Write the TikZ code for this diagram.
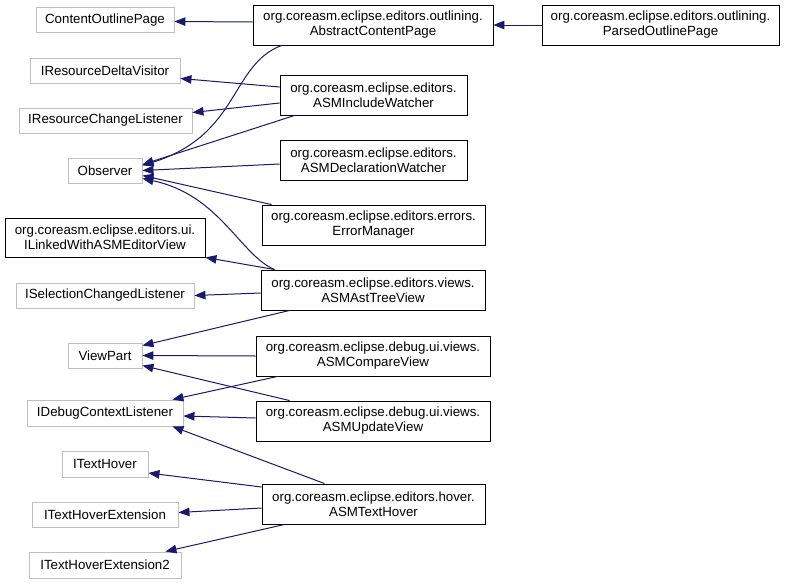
\documentclass[tikz,border=0pt]{standalone}
\usepackage{fontspec}
\setmainfont{Liberation Sans}
\usetikzlibrary{arrows.meta}
\definecolor{navy}{RGB}{25,25,112}
\definecolor{boxgray}{RGB}{191,191,191}
\tikzset{
  basebox/.style={rectangle, inner sep=0pt, align=center, font=\fontsize{13.3}{15}\selectfont, line width=0.9pt},
  ifc/.style={basebox, draw=boxgray},
  cls/.style={basebox, draw=black},
  inh/.style={draw=navy, line width=1pt, -{Triangle[length=11pt,width=8.5pt]}}
}
\begin{document}
\begin{tikzpicture}[x=1pt,y=-1pt]
\fill[white] (0,0) rectangle (787,584);
\useasboundingbox (0,0) rectangle (787,584);
% left column
\node[ifc, minimum width=138pt, minimum height=25pt] (cop) at (105,20) {ContentOutlinePage};
\node[ifc, minimum width=150pt, minimum height=25pt] (rdv) at (105,70.5) {IResourceDeltaVisitor};
\node[ifc, minimum width=173pt, minimum height=25pt] (rcl) at (105.5,120.5) {IResourceChangeListener};
\node[ifc, minimum width=74pt, minimum height=25pt] (obs) at (105,170.5) {Observer};
\node[cls, minimum width=200pt, minimum height=39pt] (ilk) at (105,237.5) {org.coreasm.eclipse.editors.ui.\\ILinkedWithASMEditorView};
\node[ifc, minimum width=178pt, minimum height=25pt] (isel) at (105,295.5) {ISelectionChangedListener};
\node[ifc, minimum width=74pt, minimum height=25pt] (vp) at (105,355.5) {ViewPart};
\node[ifc, minimum width=156pt, minimum height=26pt] (idcl) at (105,413) {IDebugContextListener};
\node[ifc, minimum width=86pt, minimum height=26pt] (ith) at (105,464) {ITextHover};
\node[ifc, minimum width=146pt, minimum height=25pt] (ithe) at (105,514.5) {ITextHoverExtension};
\node[ifc, minimum width=152pt, minimum height=26pt] (ithe2) at (105,565) {ITextHoverExtension2};
% middle column
\node[cls, minimum width=240pt, minimum height=40pt] (acp) at (373,25) {org.coreasm.eclipse.editors.outlining.\\AbstractContentPage};
\node[cls, minimum width=187pt, minimum height=40pt] (iw) at (373.5,95) {org.coreasm.eclipse.editors.\\ASMIncludeWatcher};
\node[cls, minimum width=187pt, minimum height=40pt] (decl) at (373.5,160) {org.coreasm.eclipse.editors.\\ASMDeclarationWatcher};
\node[cls, minimum width=223pt, minimum height=40pt] (em) at (373.5,225) {org.coreasm.eclipse.editors.errors.\\ErrorManager};
\node[cls, minimum width=224pt, minimum height=40pt] (ast) at (373,290) {org.coreasm.eclipse.editors.views.\\ASMAstTreeView};
\node[cls, minimum width=234pt, minimum height=40pt] (cmp) at (373,356) {org.coreasm.eclipse.debug.ui.views.\\ASMCompareView};
\node[cls, minimum width=234pt, minimum height=40pt] (upd) at (373,421) {org.coreasm.eclipse.debug.ui.views.\\ASMUpdateView};
\node[cls, minimum width=223pt, minimum height=40pt] (th) at (373.5,504) {org.coreasm.eclipse.editors.hover.\\ASMTextHover};
% right
\node[cls, minimum width=237pt, minimum height=40pt] (pop) at (660.5,25) {org.coreasm.eclipse.editors.outlining.\\ParsedOutlinePage};
% edges
\draw[inh] (pop.west) -- (acp.east);
\draw[inh] ([yshift=3pt]acp.west) -- ([yshift=-1.5pt]cop.east);
\draw[inh] ([xshift=29pt]acp.south west) .. controls (230,65) and (240,135) .. ([yshift=5pt]obs.east);
\draw[inh] ([yshift=8pt]iw.west) -- ([yshift=-8pt]rdv.east);
\draw[inh] ([yshift=-8pt]iw.west) -- ([yshift=8pt]rcl.east);
\draw[inh] ([xshift=15pt]iw.south west) -- ([yshift=6pt]obs.east);
\draw[inh] ([yshift=-4pt]decl.west) -- (obs.east);
\draw[inh] ([xshift=10pt]em.north west) -- ([yshift=-5pt]obs.east);
\draw[inh] ([xshift=14pt]ast.north west) .. controls (240,255) and (220,195) .. ([yshift=-8pt]obs.east);
\draw[inh] ([xshift=14pt]ast.north west) -- (ilk.south east);
\draw[inh] ([yshift=-3pt]ast.west) -- (isel.east);
\draw[inh] ([xshift=29pt]ast.south west) -- ([yshift=10pt]vp.east);
\draw[inh] (cmp.west) -- (vp.east);
\draw[inh] ([xshift=22pt]cmp.south west) -- ([xshift=-11pt]idcl.north east);
\draw[inh] ([xshift=34pt]upd.north west) -- ([yshift=-10pt]vp.east);
\draw[inh] ([yshift=3pt]upd.west) -- ([yshift=-3pt]idcl.east);
\draw[inh] ([xshift=63pt]th.north west) -- ([xshift=-11pt]idcl.south east);
\draw[inh] ([yshift=17pt]th.west) -- ([yshift=-9pt]ith.east);
\draw[inh] ([yshift=-4pt]th.west) -- ([yshift=2pt]ithe.east);
\draw[inh] ([xshift=23pt]th.south west) -- ([xshift=-16pt]ithe2.north east);
\end{tikzpicture}
\end{document}
